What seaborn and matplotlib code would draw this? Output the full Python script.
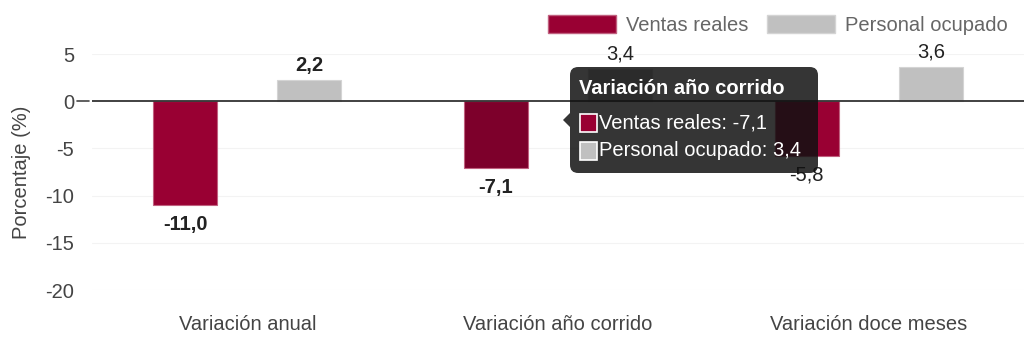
import matplotlib
matplotlib.use("Agg")
import matplotlib.pyplot as plt
from matplotlib.patches import FancyBboxPatch, Rectangle, Polygon
import seaborn as sns
import pandas as pd

categories = ["Variación anual", "Variación año corrido", "Variación doce meses"]
series_names = ["Ventas reales", "Personal ocupado"]
ventas = [-11.0, -7.1, -5.8]
personal = [2.2, 3.4, 3.6]
y_ticks = [5, 0, -5, -10, -15, -20]

RED = "#990033"
RED_ACTIVE = "#7d002b"
GRAY = "#c0c0c0"
FS = 14.5

df = pd.DataFrame({
    "categoria": categories * 2,
    "serie": [series_names[0]] * 3 + [series_names[1]] * 3,
    "valor": ventas + personal,
})

sns.set_theme(style="white")
plt.rcParams["font.family"] = ["Liberation Sans", "DejaVu Sans"]

W, H = 1024, 342
fig = plt.figure(figsize=(W / 100, H / 100), dpi=100)
ax = fig.add_axes([92 / W, 1 - 290 / H, (1024 - 92) / W, (290 - 54) / H])

sns.barplot(data=df, x="categoria", y="valor", hue="serie", order=categories,
            hue_order=series_names, palette=[RED, GRAY], width=0.8, gap=0.485,
            saturation=1, ax=ax, legend=False, linewidth=0.8)

for cont, edge in zip(ax.containers, ["#c0607f", "#d4d4d4"]):
    for bar in cont:
        bar.set_edgecolor(edge)
# highlighted (hovered) group
ax.containers[0][1].set_facecolor(RED_ACTIVE)

ax.set_xlim(-0.5, 2.5)
ax.set_ylim(-20, 5)
ax.set_yticks(y_ticks)
ax.set_yticklabels([str(v) for v in y_ticks])
for y in y_ticks:
    if y != 0:
        ax.axhline(y, color="#f3f3f3", lw=0.8, zorder=0)
ax.axhline(0, color="#333333", lw=1.3, zorder=3)
ax.axhline(0, xmin=-0.016, xmax=-0.003, color="#444444", lw=1.2, clip_on=False)

for s in ax.spines.values():
    s.set_visible(False)
ax.tick_params(axis="y", length=0, pad=13, labelsize=FS, labelcolor="#444444")
ax.tick_params(axis="x", length=0, pad=18, labelsize=FS, labelcolor="#444444")
ax.set_xlabel("")
ax.set_ylabel("Porcentaje (%)", fontsize=FS, color="#444444", labelpad=10)

# value labels
bold_flags = {(0, 0): True, (0, 1): True, (0, 2): False,
              (1, 0): True, (1, 1): False, (1, 2): False}
for si, cont in enumerate(ax.containers):
    vals = [ventas, personal][si]
    for ci, bar in enumerate(cont):
        v = vals[ci]
        x = bar.get_x() + bar.get_width() / 2
        txt = f"{v:.1f}".replace(".", ",")
        off = 4 if v >= 0 else -7
        ax.annotate(txt, (x, v), xytext=(0, off), textcoords="offset points",
                    ha="center", va="bottom" if v >= 0 else "top",
                    fontsize=FS, color="#222222",
                    fontweight="bold" if bold_flags[(si, ci)] else "normal",
                    zorder=4)

# legend
handles = [Rectangle((0, 0), 1, 1, facecolor=RED, edgecolor="#c0607f"),
           Rectangle((0, 0), 1, 1, facecolor=GRAY, edgecolor="#d4d4d4")]
fig.legend(handles, series_names, loc="upper right", bbox_to_anchor=(1008 / W, 1 - 15 / H),
           ncol=2, frameon=False, fontsize=FS, labelcolor="#666666",
           handlelength=3.4, handleheight=1.0, handletextpad=0.5, columnspacing=0.9,
           borderaxespad=0, borderpad=0)

# tooltip
def fx(px):
    return px / W

def fy(py):
    return 1 - py / H

tip = FancyBboxPatch((fx(570), fy(173)), fx(818) - fx(570), fy(67) - fy(173),
                     boxstyle="round,pad=0,rounding_size=0.008",
                     transform=fig.transFigure, facecolor="#111111", alpha=0.85,
                     edgecolor="none", zorder=10, mutation_aspect=W / H)
fig.patches.append(tip)
arrow = Polygon([(fx(570), fy(113)), (fx(563), fy(120)), (fx(570), fy(127))],
                closed=True, transform=fig.transFigure, facecolor="#111111",
                alpha=0.85, edgecolor="none", zorder=10)
fig.patches.append(arrow)
fig.text(fx(579), fy(88), "Variación año corrido", color="white", fontsize=FS,
         fontweight="bold", va="center", ha="left", zorder=11)
items = [(RED, f"{series_names[0]}: " + f"{ventas[1]:.1f}".replace(".", ","), 123),
         (GRAY, f"{series_names[1]}: " + f"{personal[1]:.1f}".replace(".", ","), 151)]
for col, label, yc in items:
    sw = Rectangle((fx(580), fy(yc + 9)), fx(597) - fx(580), fy(yc - 9) - fy(yc + 9),
                   transform=fig.transFigure, facecolor=col, edgecolor="white",
                   lw=1.2, zorder=11)
    fig.patches.append(sw)
    fig.text(fx(599), fy(yc), label, color="white", fontsize=FS,
             va="center", ha="left", zorder=11)

fig.savefig("out.png", dpi=100, facecolor="white")
